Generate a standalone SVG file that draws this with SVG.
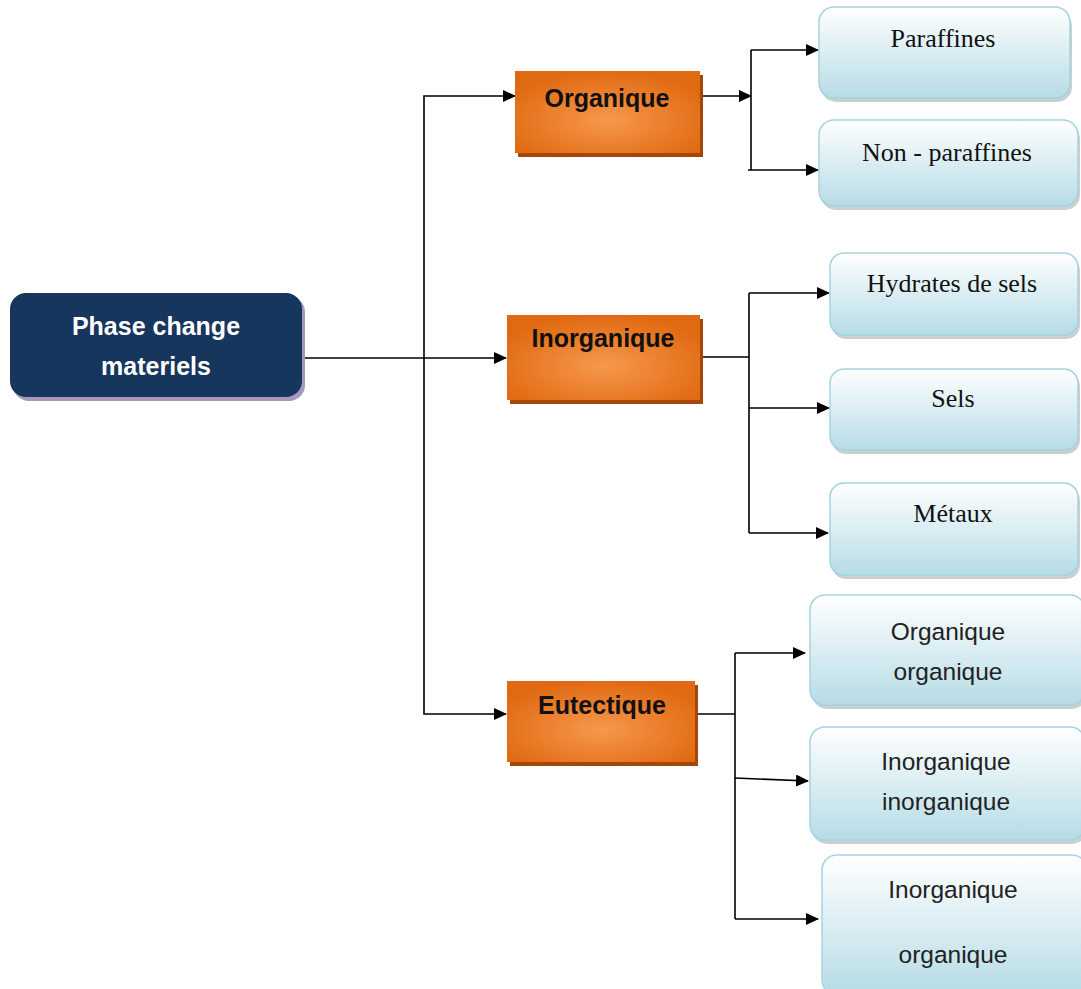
<svg xmlns="http://www.w3.org/2000/svg" width="1081" height="989" viewBox="0 0 1081 989">
<defs>
<style>
.conn{fill:none;stroke:#000;stroke-width:1.6}
.arr{marker-end:url(#ah)}
.root{fill:#17365d}
.rootsh{fill:#a597bd}
.org{fill:url(#og)}
.orgsh{fill:#a5470b}
.leaf{fill:url(#lg);stroke:#a6d3e0;stroke-width:1.5}
.leafsh{fill:#9aa9ae;opacity:0.55}
.tw{font-family:"Liberation Sans",Arial,sans-serif;font-weight:bold;font-size:25px;fill:#fff;text-anchor:middle}
.tb{font-family:"Liberation Sans",Arial,sans-serif;font-weight:bold;font-size:25px;fill:#111;text-anchor:middle}
.ts{font-family:"Liberation Serif","Times New Roman",serif;font-size:26px;fill:#111;text-anchor:middle}
.tn{font-family:"Liberation Sans",Arial,sans-serif;font-size:24.5px;fill:#222;text-anchor:middle}
</style>
<marker id="ah" markerUnits="userSpaceOnUse" markerWidth="13" markerHeight="12" refX="12" refY="6" orient="auto">
<path d="M0,0 L13,6 L0,12 z" fill="#000"/>
</marker>
<radialGradient id="og" cx="0.5" cy="0.6" r="0.6">
<stop offset="0" stop-color="#f7984c"/>
<stop offset="1" stop-color="#e06a12"/>
</radialGradient>
<linearGradient id="lg" x1="0" y1="0" x2="0" y2="1">
<stop offset="0" stop-color="#ffffff"/>
<stop offset="1" stop-color="#b6dce6"/>
</linearGradient>
</defs>

<g id="connectors">
<path class="conn" d="M303,358 H424"/>
<path class="conn arr" d="M424,358 H506"/>
<path class="conn arr" d="M424,358 V96 H515"/>
<path class="conn arr" d="M424,358 V714 H506"/>
<path class="conn arr" d="M701,96 H751"/>
<path class="conn" d="M751,50 V170"/>
<path class="conn arr" d="M751,50 H818"/>
<path class="conn arr" d="M748,170 H818"/>
<path class="conn" d="M701,357 H749"/>
<path class="conn" d="M749,293 V533"/>
<path class="conn arr" d="M749,293 H829"/>
<path class="conn arr" d="M749,408 H829"/>
<path class="conn arr" d="M749,533 H828"/>
<path class="conn" d="M696,714 H735"/>
<path class="conn" d="M735,653 V919"/>
<path class="conn arr" d="M735,653 H805"/>
<path class="conn arr" d="M735,778 L808,781"/>
<path class="conn arr" d="M735,919 H818"/>
</g>

<g id="root">
<rect class="rootsh" x="13" y="296" width="292" height="105" rx="16"/>
<rect class="root" x="10" y="293" width="292" height="104" rx="16"/>
<text class="tw" x="156" y="335">Phase change</text>
<text class="tw" x="156" y="375">materiels</text>
</g>

<g id="organique">
<rect class="orgsh" x="518" y="75" width="185" height="82"/>
<rect class="org" x="515" y="71" width="185" height="82"/>
<text class="tb" x="607" y="107">Organique</text>
</g>

<g id="inorganique">
<rect class="orgsh" x="510" y="319" width="193" height="85"/>
<rect class="org" x="507" y="315" width="193" height="85"/>
<text class="tb" x="603" y="347">Inorganique</text>
</g>

<g id="eutectique">
<rect class="orgsh" x="510" y="685" width="188" height="81"/>
<rect class="org" x="507" y="681" width="188" height="81"/>
<text class="tb" x="602" y="714">Eutectique</text>
</g>

<g id="paraffines">
<rect class="leafsh" x="821" y="11" width="251" height="91" rx="15"/>
<rect class="leaf" x="819" y="7" width="251" height="91" rx="15"/>
<text class="ts" x="943" y="47">Paraffines</text>
</g>

<g id="non-paraffines">
<rect class="leafsh" x="821" y="124" width="259" height="86" rx="15"/>
<rect class="leaf" x="819" y="120" width="259" height="86" rx="15"/>
<text class="ts" x="947" y="161">Non - paraffines</text>
</g>

<g id="hydrates">
<rect class="leafsh" x="832" y="257" width="248" height="82" rx="14"/>
<rect class="leaf" x="830" y="253" width="248" height="82" rx="14"/>
<text class="ts" x="952" y="292">Hydrates de sels</text>
</g>

<g id="sels">
<rect class="leafsh" x="832" y="373" width="248" height="81" rx="14"/>
<rect class="leaf" x="830" y="369" width="248" height="81" rx="14"/>
<text class="ts" x="953" y="407">Sels</text>
</g>

<g id="metaux">
<rect class="leafsh" x="832" y="487" width="248" height="92" rx="14"/>
<rect class="leaf" x="830" y="483" width="248" height="92" rx="14"/>
<text class="ts" x="953" y="522">Métaux</text>
</g>

<g id="org-org">
<rect class="leafsh" x="812" y="599" width="275" height="110" rx="15"/>
<rect class="leaf" x="810" y="595" width="275" height="110" rx="15"/>
<text class="tn" x="948" y="640">Organique</text>
<text class="tn" x="948" y="680">organique</text>
</g>

<g id="inorg-inorg">
<rect class="leafsh" x="812" y="731" width="275" height="113" rx="15"/>
<rect class="leaf" x="810" y="727" width="275" height="113" rx="15"/>
<text class="tn" x="946" y="770">Inorganique</text>
<text class="tn" x="946" y="810">inorganique</text>
</g>

<g id="inorg-org">
<rect class="leafsh" x="824" y="859" width="265" height="140" rx="15"/>
<rect class="leaf" x="822" y="855" width="265" height="140" rx="15"/>
<text class="tn" x="953" y="898">Inorganique</text>
<text class="tn" x="953" y="963">organique</text>
</g>
</svg>
